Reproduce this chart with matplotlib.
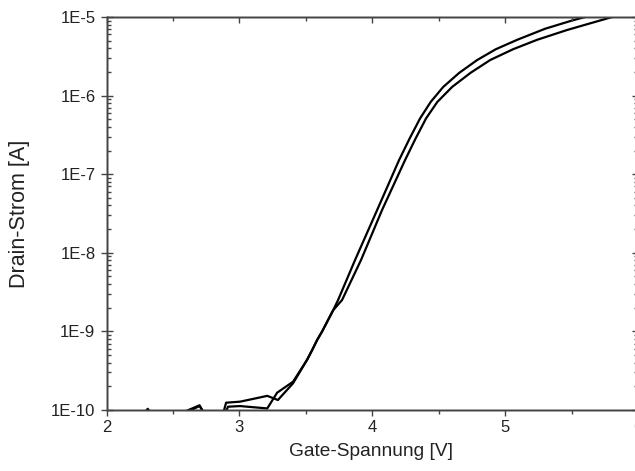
import numpy as np
import matplotlib
matplotlib.use("Agg")
import matplotlib.pyplot as plt
from matplotlib.ticker import LogLocator, FuncFormatter, MultipleLocator, NullFormatter

plt.rcParams['font.family'] = ['Liberation Sans', 'DejaVu Sans']

# Transfer curves (gate voltage in V, log10 of drain current in A)
vg_a = [2.0, 2.1, 2.2, 2.3, 2.4, 2.5, 2.59, 2.70, 2.73, 2.8, 2.877, 2.90, 3.005,
        3.10, 3.21, 3.29, 3.404, 3.51, 3.547, 3.585, 3.623, 3.706, 3.743, 3.871,
        4.037, 4.202, 4.28, 4.36, 4.44, 4.534, 4.655, 4.79, 4.93, 5.091, 5.30,
        5.513, 5.603, 6.0]
log_id_a = [-10.3, -10.2, -10.25, -10.1, -10.2, -10.15, -10.02, -9.94, -10.03, -10.2,
            -10.05, -9.907, -9.894, -9.86, -9.82, -9.873, -9.66, -9.36, -9.24, -9.11,
            -9.0, -8.73, -8.60, -8.09, -7.455, -6.82, -6.55, -6.29, -6.08, -5.89,
            -5.71, -5.547, -5.41, -5.29, -5.15, -5.04, -5.0, -4.85]

vg_b = [2.0, 2.1, 2.2, 2.29, 2.31, 2.33, 2.45, 2.6, 2.70, 2.74, 2.8, 2.877, 2.915,
        3.005, 3.21, 3.284, 3.404, 3.51, 3.547, 3.585, 3.623, 3.706, 3.773, 3.916,
        4.074, 4.247, 4.325, 4.405, 4.49, 4.601, 4.74, 4.888, 5.06, 5.241, 5.467,
        5.806, 6.0]
log_id_b = [-10.2, -10.3, -10.2, -10.03, -9.985, -10.03, -10.2, -10.03, -9.95, -10.05,
            -10.2, -10.1, -9.958, -9.95, -9.98, -9.78, -9.64, -9.36, -9.24, -9.11,
            -9.0, -8.73, -8.60, -8.09, -7.455, -6.82, -6.55, -6.29, -6.08, -5.89,
            -5.71, -5.547, -5.41, -5.29, -5.165, -5.0, -4.93]

fig = plt.figure(figsize=(6.35, 4.71), dpi=100)
ax = fig.add_axes([106.5 / 635, 61 / 471, 531.5 / 635, 393 / 471])

ax.plot(vg_a, 10 ** np.array(log_id_a), color='black', lw=1.6)
ax.plot(vg_b, 10 ** np.array(log_id_b), color='black', lw=1.6)

ax.set_yscale('log')
ax.set_xlim(2, 6)
ax.set_ylim(1e-10, 1e-5)

spine_col = '#444444'
txt_col = '#222222'
for s in ax.spines.values():
    s.set_color(spine_col)
    s.set_linewidth(1.0)

ax.xaxis.set_major_locator(MultipleLocator(1))
ax.xaxis.set_minor_locator(MultipleLocator(0.5))
ax.yaxis.set_major_locator(LogLocator(base=10, numticks=10))
ax.yaxis.set_minor_locator(LogLocator(base=10, subs=np.arange(2, 10), numticks=20))
ax.yaxis.set_minor_formatter(NullFormatter())
ax.yaxis.set_major_formatter(FuncFormatter(lambda v, p: "1E%d" % round(np.log10(v))))

ax.tick_params(axis='x', which='major', direction='out', length=4.5, width=1,
               color=spine_col, labelsize=12, labelcolor=txt_col, pad=3,
               top=False)
ax.tick_params(axis='x', which='minor', direction='out', length=3, width=1,
               color=spine_col, top=False)
ax.tick_params(axis='y', which='major', direction='inout', length=8, width=1,
               color=spine_col, labelsize=12, labelcolor=txt_col, pad=4,
               right=False)
ax.tick_params(axis='y', which='minor', direction='in', length=3, width=1,
               color=spine_col, right=False)

# top and right axes with inward ticks, no labels
axr = ax.twinx()
axr.set_yscale('log')
axr.set_ylim(1e-10, 1e-5)
axr.yaxis.set_major_locator(LogLocator(base=10, numticks=10))
axr.yaxis.set_minor_locator(LogLocator(base=10, subs=np.arange(2, 10), numticks=20))
axr.yaxis.set_minor_formatter(NullFormatter())
axr.tick_params(axis='y', which='both', direction='in', labelright=False, color=spine_col, width=1)
axr.tick_params(axis='y', which='major', length=4)
axr.tick_params(axis='y', which='minor', length=3)
axt = ax.twiny()
axt.set_xlim(2, 6)
axt.xaxis.set_major_locator(MultipleLocator(1))
axt.xaxis.set_minor_locator(MultipleLocator(0.5))
axt.tick_params(axis='x', which='both', direction='in', labeltop=False, color=spine_col, width=1)
axt.tick_params(axis='x', which='major', length=4)
axt.tick_params(axis='x', which='minor', length=3)
for a in (axr, axt):
    for s in a.spines.values():
        s.set_color(spine_col)
        s.set_linewidth(1.0)

ax.set_xlabel('Gate-Spannung [V]', fontsize=13.8, color=txt_col)
ax.set_ylabel('Drain-Strom [A]', fontsize=15.5, color=txt_col)
ax.xaxis.set_label_coords(0.497, -0.083)
ax.yaxis.set_label_coords(-0.144, 0.5)

fig.savefig('out.png', dpi=100)
